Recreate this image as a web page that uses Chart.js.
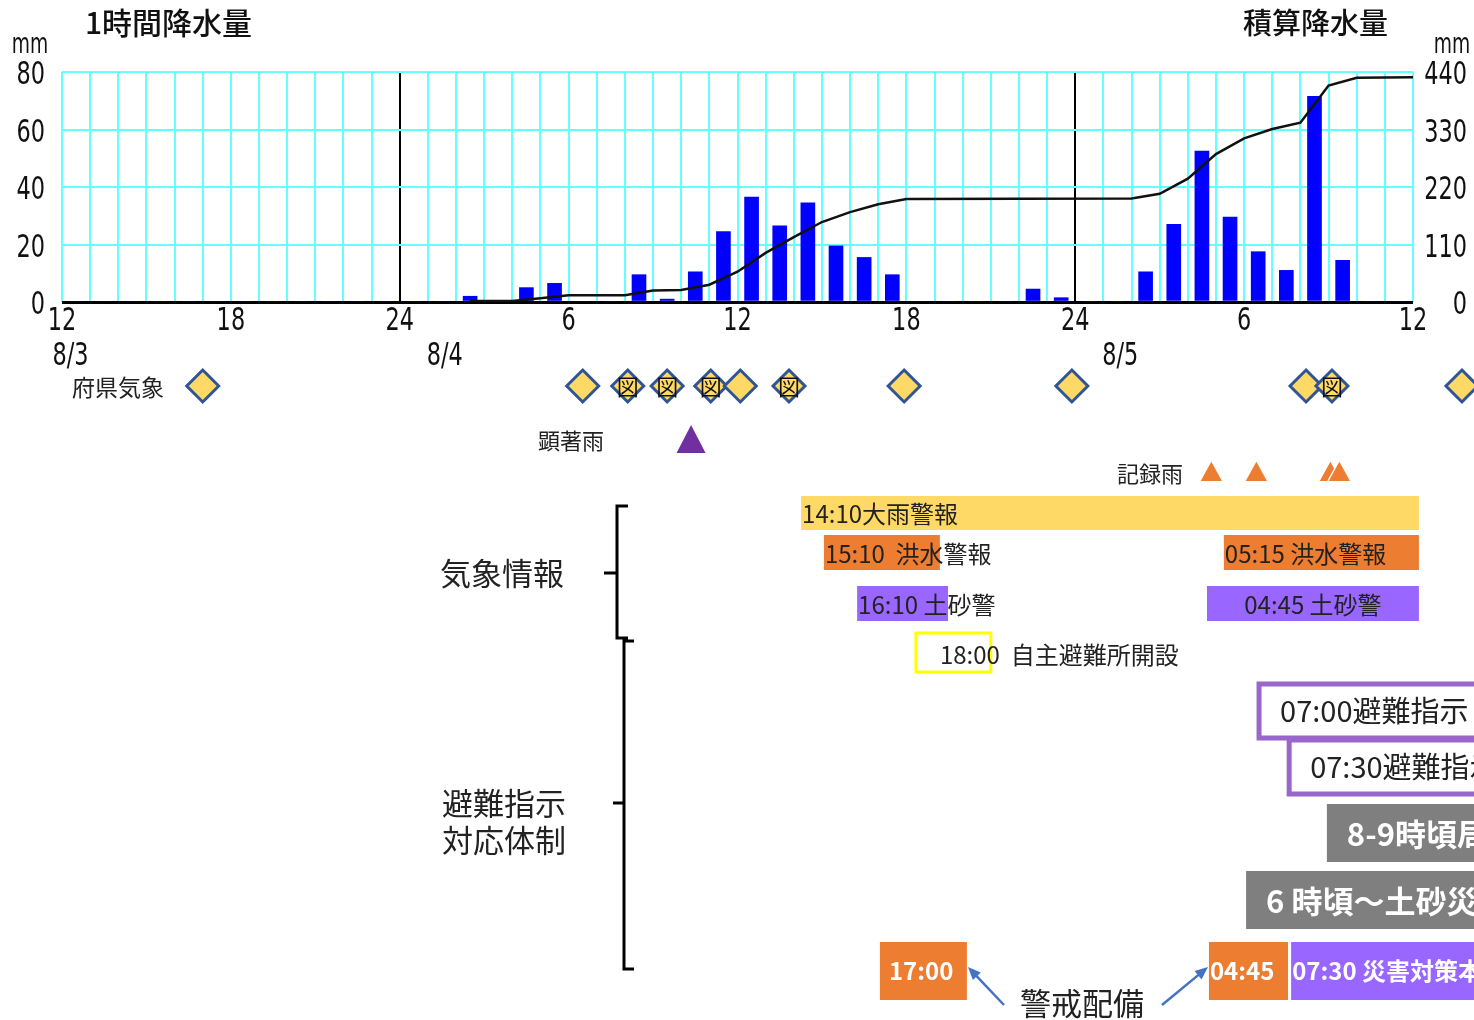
<!DOCTYPE html>
<html lang="ja">
<head>
<meta charset="UTF-8">
<title>1時間降水量・積算降水量と防災対応</title>
<script src="https://cdn.jsdelivr.net/npm/chart.js@4"></script>
<style>
  body { margin: 0; background: #fff; }
  #wrap { width: 1474px; height: 1020px; }
</style>
</head>
<body>
<div id="wrap"><canvas id="rainChart" width="1474" height="1020"></canvas></div>
<script>
// 時刻は 8/3 12:00 からの経過時間 (h)
const hourLabels = ['12', '18', '24', '6', '12', '18', '24', '6', '12'];
const dateLabels = ['8/3', '8/4', '8/5'];
const datePos = [0.3, 13.6, 37.6];

// 1時間降水量 (mm)
const hourlyRain = [
  0, 0, 0, 0, 0, 0, 0, 0, 0, 0, 0, 0,
  0, 0, 2, 0, 5, 6.5, 0, 0, 9.5, 1, 10.5, 24.5,
  36.5, 26.5, 34.5, 19.5, 15.5, 9.5, 0, 0, 0, 0, 4.5, 1.5,
  0, 0, 10.5, 27, 52.5, 29.5, 17.5, 11, 71.5, 14.5, 0, 0
];

// 積算降水量 (mm)
const cumHours = [14.5, 16, 17, 18, 20, 21, 22, 23, 24, 25, 26, 27, 28, 29, 30, 38, 39, 40, 41, 42, 43, 44, 45, 46, 48];
const cumRain  = [2, 2, 7, 13, 13, 22, 23, 33, 58, 94, 124, 153, 172, 187, 197, 198, 207, 236, 283, 313, 331, 343, 414, 429, 430];

// 府県気象情報 (◇) と 図情報
const prefHours = [5.0, 18.5, 20.1, 21.5, 23.05, 24.1, 25.83, 29.92, 35.88, 44.2, 45.12, 49.74];
const prefHasMap = [false, false, true, true, true, false, true, false, false, false, true, false];

// 顕著な大雨 / 記録的短時間大雨
const kenchoHours = [22.35];
const kirokuHours = [40.82, 42.42, 45.05, 45.37];

// 気象警報
const warnText  = ['14:10大雨警報', '15:10  洪水警報', '05:15 洪水警報', '16:10 土砂警', '04:45 土砂警'];
const warnStart = [26.26, 27.07, 41.28, 28.25, 40.68];
const warnEnd   = [48.21, 31.19, 48.21, 31.48, 48.21];

// 避難・体制
const shelterText = '18:00  自主避難所開設';
const shelterStart = 30.34, shelterEnd = 33.0;
const orderText  = ['07:00避難指示', '07:30避難指示'];
const orderStart = [42.53, 43.6];
const disasterText  = ['8-9時頃局地的な被害', '6 時頃～土砂災害発生'];
const disasterStart = [44.94, 42.07];
const alertText  = ['17:00', '04:45', '07:30 災害対策本部設置'];
const alertStart = [29.06, 40.75, 43.67];
const alertEnd   = [32.15, 43.56, 52];

const JP = '"Noto Sans CJK JP", "Noto Sans", sans-serif';
const DIGIT = '"DejaVu Sans", sans-serif';
const CYAN = '#66FFFF';
const ORANGE = '#ED7D31';
const YELLOW = '#FFD966';
const PURPLE = '#9966FF';
const GRAY = '#7F7F7F';

function tickVal(c) {
  return c && c.tick ? c.tick.value : null;
}

// 細長い数字 (元図のビットマップ風)
function narrow(c, s, x, y, align) {
  c.save();
  c.font = '32px ' + DIGIT;
  c.fillStyle = '#111';
  c.textBaseline = 'middle';
  c.textAlign = align;
  c.translate(x, y);
  c.scale(0.7, 1);
  c.fillText(s, 0, 0);
  c.restore();
}

function diamond(c, x, y) {
  c.beginPath();
  c.moveTo(x, y - 16);
  c.lineTo(x + 16, y);
  c.lineTo(x, y + 16);
  c.lineTo(x - 16, y);
  c.closePath();
  c.fillStyle = YELLOW;
  c.fill();
  c.lineWidth = 3;
  c.strokeStyle = '#2F5597';
  c.stroke();
}

function triangle(c, x, yBase, half, h, color) {
  c.beginPath();
  c.moveTo(x - half, yBase);
  c.lineTo(x + half, yBase);
  c.lineTo(x, yBase - h);
  c.closePath();
  c.fillStyle = color;
  c.fill();
}

function txt(c, s, x, y, size, color, weight, align) {
  c.font = (weight || 'normal') + ' ' + size + 'px ' + JP;
  c.fillStyle = color || '#222';
  c.textAlign = align || 'left';
  c.textBaseline = 'middle';
  c.fillText(s, x, y);
}

function arrow(c, x1, y1, x2, y2) {
  const a = Math.atan2(y2 - y1, x2 - x1);
  c.strokeStyle = '#4472C4';
  c.fillStyle = '#4472C4';
  c.lineWidth = 2.5;
  c.beginPath();
  c.moveTo(x1, y1);
  c.lineTo(x2 - 8 * Math.cos(a), y2 - 8 * Math.sin(a));
  c.stroke();
  c.beginPath();
  c.moveTo(x2, y2);
  c.lineTo(x2 - 14 * Math.cos(a - 0.4), y2 - 14 * Math.sin(a - 0.4));
  c.lineTo(x2 - 14 * Math.cos(a + 0.4), y2 - 14 * Math.sin(a + 0.4));
  c.closePath();
  c.fill();
}

const annotations = {
  id: 'annotations',
  afterDraw(chart) {
    const c = chart.ctx;
    const xs = chart.scales.x, yl = chart.scales.y, yr = chart.scales.yR;
    const px = h => xs.getPixelForValue(h);
    c.save();

    // 軸目盛
    yl.ticks.forEach(t => narrow(c, String(t.value), 45, yl.getPixelForValue(t.value) + 4, 'right'));
    yr.ticks.forEach(t => narrow(c, String(t.value), 1467, yr.getPixelForValue(t.value) + 4, 'right'));
    hourLabels.forEach((s, i) => narrow(c, s, px(i * 6), 322, 'center'));
    dateLabels.forEach((d, i) => narrow(c, d, px(datePos[i]), 357, 'center'));

    // タイトル・単位
    txt(c, '1時間降水量', 85, 23, 30, '#111', '500');
    txt(c, '積算降水量', 1243, 23, 29, '#111', '500');
    [30, 1452].forEach(x => {
      c.save();
      c.font = '22px ' + DIGIT;
      c.fillStyle = '#111';
      c.textAlign = 'center';
      c.textBaseline = 'middle';
      c.translate(x, 46);
      c.scale(0.85, 1.3);
      c.fillText('mm', 0, 0);
      c.restore();
    });

    // 府県気象情報
    txt(c, '府県気象', 72, 387, 23);
    prefHours.forEach((h, i) => {
      diamond(c, px(h), 386);
      if (prefHasMap[i]) txt(c, '図', px(h), 387, 22, '#111', 'normal', 'center');
    });

    // 顕著雨・記録雨
    txt(c, '顕著雨', 538, 441, 22);
    kenchoHours.forEach(h => triangle(c, px(h), 453, 14.5, 28, '#7030A0'));
    txt(c, '記録雨', 1117, 474, 22);
    kirokuHours.forEach(h => {
      triangle(c, px(h), 481, 11, 20, ORANGE);
      c.strokeStyle = '#fff';
      c.lineWidth = 1.5;
      c.beginPath();
      c.moveTo(px(h) - 11, 481);
      c.lineTo(px(h), 461);
      c.stroke();
    });

    // 気象警報
    const warnRow = [[496, 34, YELLOW], [535, 35, ORANGE], [535, 35, ORANGE], [586, 35, PURPLE], [586, 35, PURPLE]];
    warnText.forEach((s, i) => {
      const [y, hgt, col] = warnRow[i];
      const x0 = px(warnStart[i]), x1 = px(warnEnd[i]);
      c.fillStyle = col;
      c.fillRect(x0, y, x1 - x0, hgt);
      if (i === 4) txt(c, s, (x0 + x1) / 2, y + hgt / 2 + 1, 24, '#222', 'normal', 'center');
      else txt(c, s, x0 + 1, y + hgt / 2 + 1, 24);
    });

    // 自主避難所
    const s0 = px(shelterStart), s1 = px(shelterEnd);
    c.strokeStyle = '#FFFF00';
    c.lineWidth = 3;
    c.strokeRect(s0, 633, s1 - s0, 39);
    txt(c, shelterText, s0 + 24, 655, 24);

    // 避難指示
    orderText.forEach((s, i) => {
      const x0 = px(orderStart[i]);
      const y = 684 + i * 56;
      c.fillStyle = '#fff';
      c.fillRect(x0, y, 1500 - x0, 54);
      c.strokeStyle = '#9966CC';
      c.lineWidth = 5;
      c.strokeRect(x0, y, 1500 - x0, 54);
      txt(c, s, x0 + 21, y + 27, 29);
    });

    // 被害
    disasterText.forEach((s, i) => {
      const x0 = px(disasterStart[i]);
      const y = 804 + i * 67;
      c.fillStyle = GRAY;
      c.fillRect(x0, y, 1500 - x0, 58);
      txt(c, s, x0 + 20, y + 30, 31, '#fff', 'bold');
    });

    // 警戒配備・災害対策本部
    alertText.forEach((s, i) => {
      const x0 = px(alertStart[i]), x1 = px(alertEnd[i]);
      c.fillStyle = i === 2 ? PURPLE : ORANGE;
      c.fillRect(x0, 942, x1 - x0, 58);
      txt(c, s, x0 + (i === 0 ? 9 : 1), 971, 24, '#fff', 'bold');
    });
    txt(c, '警戒配備', 1020, 1003, 31);
    arrow(c, 1004, 1005, 968, 967);
    arrow(c, 1162, 1005, 1208, 967);

    // 括弧
    c.strokeStyle = '#000';
    c.lineWidth = 3;
    c.beginPath();
    c.moveTo(628, 506); c.lineTo(617, 506); c.lineTo(617, 638); c.lineTo(628, 638);
    c.moveTo(604, 573); c.lineTo(617, 573);
    c.moveTo(634, 641); c.lineTo(624, 641); c.lineTo(624, 969); c.lineTo(634, 969);
    c.moveTo(613, 803); c.lineTo(624, 803);
    c.stroke();
    txt(c, '気象情報', 440, 573, 31);
    txt(c, '避難指示', 442, 803, 31);
    txt(c, '対応体制', 442, 840, 31);

    c.restore();
  }
};

const ctx = document.getElementById('rainChart').getContext('2d');

new Chart(ctx, {
  data: {
    datasets: [
      {
        type: 'line',
        label: '積算降水量',
        data: cumHours.map((h, i) => ({ x: h, y: cumRain[i] })),
        yAxisID: 'yR',
        borderColor: '#111',
        borderWidth: 2.5,
        pointRadius: 0,
        tension: 0,
        order: 0
      },
      {
        type: 'bar',
        label: '1時間降水量',
        data: hourlyRain.map((v, i) => ({ x: i + 0.5, y: v })),
        yAxisID: 'y',
        backgroundColor: '#0000FF',
        barThickness: 14,
        order: 1
      }
    ]
  },
  options: {
    responsive: false,
    animation: false,
    layout: { padding: { top: 72, left: 0, right: 0, bottom: 658 } },
    plugins: { legend: { display: false }, tooltip: { enabled: false } },
    scales: {
      x: {
        type: 'linear',
        min: 0,
        max: 48,
        offset: false,
        afterFit: s => { s.height = 60; },
        border: { display: false },
        grid: {
          offset: false,
          color: c => { const v = tickVal(c); return (v === 12 || v === 36) ? '#000' : CYAN; },
          lineWidth: 2,
          drawTicks: false
        },
        ticks: { stepSize: 1, autoSkip: false, display: false }
      },
      y: {
        position: 'left',
        min: 0,
        max: 80,
        afterFit: s => { s.width = 62; },
        border: { display: false },
        grid: {
          color: c => tickVal(c) === 0 ? '#000' : CYAN,
          lineWidth: c => tickVal(c) === 0 ? 3 : 2,
          drawTicks: false
        },
        ticks: { stepSize: 20, display: false }
      },
      yR: {
        position: 'right',
        min: 0,
        max: 440,
        afterFit: s => { s.width = 61; },
        border: { display: false },
        grid: { display: false },
        ticks: { stepSize: 110, display: false }
      }
    }
  },
  plugins: [annotations]
});
</script>
</body>
</html>
